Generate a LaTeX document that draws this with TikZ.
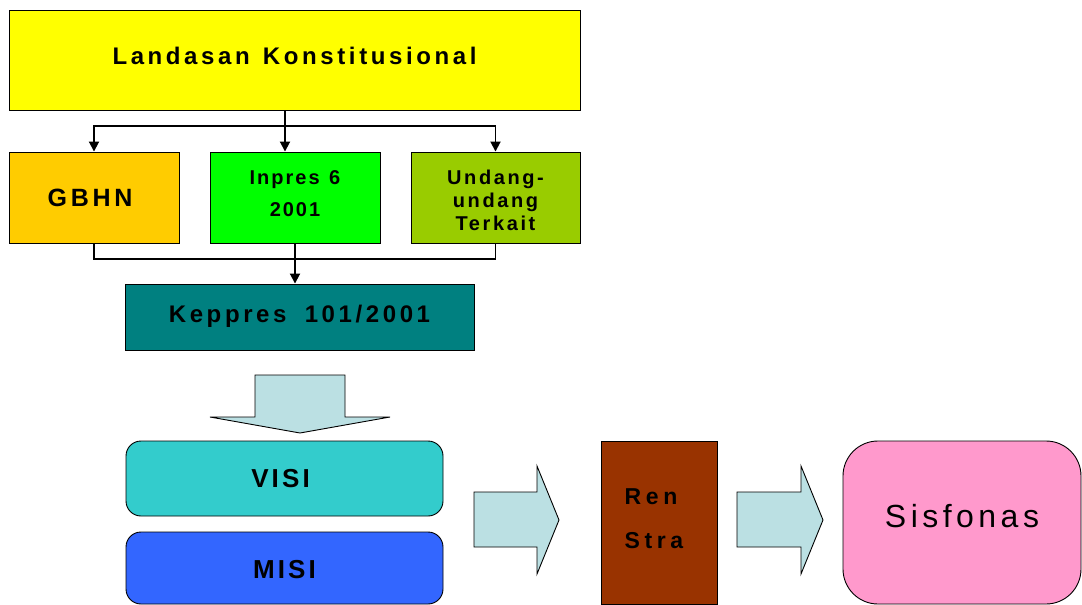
\documentclass[tikz,border=0pt]{standalone}
\usepackage{fontspec}
\setmainfont{Liberation Sans}
\newfontfamily\lsA[LetterSpace=15]{Liberation Sans}
\newfontfamily\lsB[LetterSpace=10]{Liberation Sans}
\newfontfamily\lsC[LetterSpace=13]{Liberation Sans}
\newfontfamily\lsD[LetterSpace=14]{Liberation Sans}
\newfontfamily\lsE[LetterSpace=12]{Liberation Sans}
\newfontfamily\lsF[LetterSpace=20]{Liberation Sans}
\usetikzlibrary{arrows.meta}
\definecolor{cYel}{HTML}{FFFF00}
\definecolor{cGbhn}{HTML}{FFCC00}
\definecolor{cInp}{HTML}{00FF00}
\definecolor{cUnd}{HTML}{99CC00}
\definecolor{cKep}{HTML}{008080}
\definecolor{cBlk}{HTML}{BBE0E3}
\definecolor{cVisi}{HTML}{33CCCC}
\definecolor{cMisi}{HTML}{3366FF}
\definecolor{cRen}{HTML}{993300}
\definecolor{cSis}{HTML}{FF99CC}
\newcommand{\rb}[2]{\raisebox{#1}[0pt][0pt]{#2}}
\tikzset{
  box/.style={draw=black, line width=0.9pt, inner sep=0pt, align=center, anchor=center},
  conn/.style={line width=1.8pt},
  thinconn/.style={line width=1.1pt},
  tip/.style={-{Triangle[length=10pt,width=10pt]}},
  blk/.style={draw=black, line width=0.9pt, fill=cBlk, line join=miter}
}
\begin{document}
\begin{tikzpicture}[x=1pt,y=-1pt]
\useasboundingbox (0,0) rectangle (1082,605);
% boxes
\node[box, fill=cYel, minimum width=571, minimum height=100,
  font=\lsA\bfseries\fontsize{24}{28}\selectfont] (L) at (294.5,60)
  {\rb{-4.6pt}{Landasan\hspace{3pt} Konstitusional}};
\node[box, fill=cGbhn, minimum width=170, minimum height=91,
  font=\lsA\bfseries\fontsize{25}{28}\selectfont] (G) at (94,197.5)
  {\rb{-8.5pt}{GBHN\hspace*{8pt}}};
\node[box, fill=cInp, minimum width=170, minimum height=91,
  font=\lsB\bfseries\fontsize{20}{32}\selectfont] (I) at (295,197.5)
  {\rb{-18.7pt}{\begin{tabular}[b]{@{}c@{}}Inpres\hspace{2pt} 6\\2001\end{tabular}}};
\node[box, fill=cUnd, minimum width=169, minimum height=91,
  font=\lsC\bfseries\fontsize{20}{23}\selectfont] (U) at (495.5,197.5)
  {\rb{-32.7pt}{\begin{tabular}[b]{@{}c@{}}Undang-\\undang\\Terkait\end{tabular}}};
\node[box, fill=cKep, minimum width=349, minimum height=66,
  font=\lsA\bfseries\fontsize{24}{28}\selectfont] (K) at (299.5,317)
  {\rb{-5.6pt}{Keppres\hspace{8pt} 101/2001}};
\node[box, fill=cVisi, rounded corners=15pt, minimum width=317, minimum height=75,
  font=\lsE\bfseries\fontsize{26}{30}\selectfont] (V) at (284.5,478.5)
  {\rb{-8.8pt}{VISI\hspace*{8pt}}};
\node[box, fill=cMisi, rounded corners=15pt, minimum width=317, minimum height=72,
  font=\lsE\bfseries\fontsize{26}{30}\selectfont] (M) at (284.5,568)
  {\rb{-10.3pt}{MISI}};
\node[box, fill=cRen, minimum width=116, minimum height=163,
  font=\lsF\bfseries\fontsize{23}{44}\selectfont] (R) at (659,522.5)
  {\hspace*{-10pt}\rb{-26.2pt}{\begin{tabular}[b]{@{}l@{}}Ren\\Stra\end{tabular}}};
\node[box, fill=cSis, rounded corners=35pt, minimum width=238, minimum height=163,
  font=\lsD\fontsize{32}{36}\selectfont] (S) at (962,522.5)
  {\rb{-4.5pt}{Sisfonas}};
% top connectors
\coordinate (j1) at (285,126);
\draw[conn] (j1 |- L.south) -- (j1);
\draw[conn, tip] (j1) -| (G.north);
\draw[conn, tip] (j1) -| (U.north);
\draw[conn, tip] (j1) -- (j1 |- I.north);
% bottom connectors
\coordinate (j2) at (295,259);
\draw[thinconn] (G.south) |- (j2) -| (U.south);
\draw[thinconn] (I.south) -- (j2);
\draw[conn, tip] (j2) -- (j2 |- K.north);
% block arrows
\draw[blk] (255,375) -- (345,375) -- (345,417) -- (390,417) -- (300,433)
  -- (210,417) -- (255,417) -- cycle;
\draw[blk] (474,492) -- (537,492) -- (537,466) -- (559,520) -- (537,574)
  -- (537,547) -- (474,547) -- cycle;
\draw[blk] (737,492) -- (801,492) -- (801,466) -- (823,520) -- (801,574)
  -- (801,547) -- (737,547) -- cycle;
\end{tikzpicture}
\end{document}
